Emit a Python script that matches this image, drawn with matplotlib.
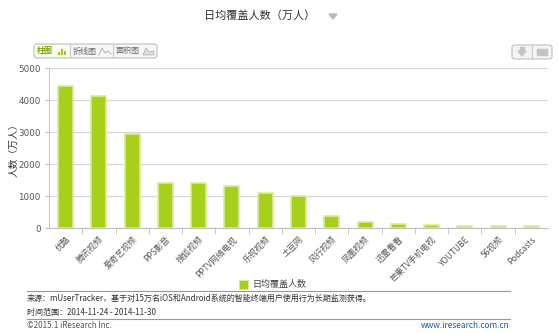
import matplotlib
matplotlib.use("Agg")
import matplotlib.pyplot as plt
from matplotlib.patches import FancyBboxPatch, Rectangle, Polygon
from matplotlib.lines import Line2D

plt.rcParams['font.family'] = ['Noto Sans CJK SC', 'DejaVu Sans']

categories = ["优酷", "腾讯视频", "爱奇艺视频", "PPS影音", "搜狐视频", "PPTV网络电视",
              "乐视视频", "土豆网", "风行视频", "凤凰视频", "迅雷看看", "芒果TV手机电视",
              "YOUTUBE", "56视频", "Podcasts"]
values = [4440, 4130, 2940, 1410, 1410, 1300, 1090, 990, 360, 175, 115, 100, 75, 60, 50]
yticks = [0, 1000, 2000, 3000, 4000, 5000]

W, H = 558, 333
fig = plt.figure(figsize=(W / 100, H / 100), dpi=100)

def fx(px):
    return px / W

def fy(py):
    return 1 - py / H

ax = fig.add_axes([fx(49), fy(228), fx(548) - fx(49), fy(68) - fy(228)])
x = list(range(len(categories)))
ax.bar(x, values, width=0.45, color="#a6d01a", edgecolor="#d9ec9c", linewidth=1.2, zorder=3)
ax.set_xlim(-0.5, len(categories) - 0.5)
ax.set_ylim(0, 5000)
ax.set_yticks(yticks)
ax.set_yticklabels([str(v) for v in yticks], fontsize=6.3, color="#555555", family="DejaVu Sans")
ax.yaxis.grid(True, color="#d6d6d6", linewidth=0.8, zorder=0)
ax.set_xticks(x)
ax.set_xticklabels(categories, rotation=45, ha="right", va="top", fontsize=6, color="#555555",
                   rotation_mode="anchor")
ax.tick_params(axis="x", length=0, pad=5)
ax.set_xticks([i + 0.5 for i in x[:-1]], minor=True)
ax.tick_params(axis="x", which="minor", length=4, color="#c0c0c0", direction="out")
ax.tick_params(axis="y", length=3, color="#c0c0c0", pad=3)
for s in ["top", "right"]:
    ax.spines[s].set_visible(False)
ax.spines["left"].set_color("#c8c8c8")
ax.spines["bottom"].set_color("#c0c0c0")
fig.text(fx(13), fy(148), "人数（万人）", rotation=90, ha="center", va="center", fontsize=7, color="#333333")

# title
fig.text(fx(260), fy(16), "日均覆盖人数（万人）", ha="center", va="center", fontsize=8, color="#333333")
fig.patches.append(Polygon([[fx(329), fy(14)], [fx(337), fy(14)], [fx(333), fy(19)]],
                           closed=True, transform=fig.transFigure, color="#bbbbbb"))

# toolbar
fig.patches.append(FancyBboxPatch((fx(34), fy(58)), fx(157) - fx(34), fy(44) - fy(58),
                                  boxstyle="round,pad=0,rounding_size=0.006", transform=fig.transFigure,
                                  facecolor="#f7f7f7", edgecolor="#bdbdbd", linewidth=0.8))
fig.patches.append(Rectangle((fx(35), fy(57)), fx(69) - fx(35), fy(45) - fy(57),
                             transform=fig.transFigure, facecolor="#fbfdf2", edgecolor="none"))
for px in [70, 113]:
    fig.lines.append(Line2D([fx(px), fx(px)], [fy(57), fy(45)], transform=fig.transFigure,
                            color="#c8c8c8", linewidth=0.8))
fig.text(fx(37), fy(51), "柱图", ha="left", va="center", fontsize=5.8, color="#7aa400", weight="bold")
for i, hgt in enumerate([3, 6, 4]):
    fig.patches.append(Rectangle((fx(58 + i * 3), fy(55)), fx(2), hgt / H, transform=fig.transFigure,
                                 facecolor="#9cc81a", edgecolor="none"))
fig.text(fx(73), fy(51), "折线图", ha="left", va="center", fontsize=5.8, color="#666666")
fig.lines.append(Line2D([fx(99), fx(102), fx(105), fx(108), fx(111)],
                        [fy(55), fy(48), fy(53), fy(51), fy(54)], transform=fig.transFigure,
                        color="#aaaaaa", linewidth=0.6))
fig.text(fx(116), fy(51), "面积图", ha="left", va="center", fontsize=5.8, color="#666666")
fig.patches.append(Polygon([[fx(143), fy(55)], [fx(146), fy(48)], [fx(149), fy(52)], [fx(154), fy(51)],
                            [fx(154), fy(55)]], closed=True, transform=fig.transFigure,
                           facecolor="#e0e0e0", edgecolor="#aaaaaa", linewidth=0.5))

# right buttons
fig.patches.append(FancyBboxPatch((fx(512), fy(59)), fx(552) - fx(512), fy(45) - fy(59),
                                  boxstyle="round,pad=0,rounding_size=0.006", transform=fig.transFigure,
                                  facecolor="#f4f4f4", edgecolor="#c0c0c0", linewidth=0.8))
fig.lines.append(Line2D([fx(532), fx(532)], [fy(58), fy(46)], transform=fig.transFigure,
                        color="#c8c8c8", linewidth=0.8))
fig.patches.append(Polygon([[fx(518), fy(51)], [fx(526), fy(51)], [fx(522), fy(56)]], closed=True,
                           transform=fig.transFigure, color="#c4c4c4"))
fig.patches.append(Rectangle((fx(520), fy(51)), fx(4), fy(47) - fy(51), transform=fig.transFigure,
                             color="#c4c4c4"))
fig.patches.append(Rectangle((fx(537), fy(55)), fx(10), fy(49) - fy(55), transform=fig.transFigure,
                             color="#c4c4c4"))

# legend
fig.patches.append(Rectangle((fx(239), fy(289)), fx(9), fy(280) - fy(289), transform=fig.transFigure,
                             facecolor="#a6d01a", edgecolor="#d9ec9c", linewidth=0.6))
fig.text(fx(252), fy(284.5), "日均覆盖人数", ha="left", va="center", fontsize=6.5, color="#444444")

# footer
fig.lines.append(Line2D([fx(27), fx(510)], [fy(291), fy(291)], transform=fig.transFigure,
                        color="#999999", linewidth=0.8))
fig.lines.append(Line2D([fx(27), fx(510)], [fy(319), fy(319)], transform=fig.transFigure,
                        color="#999999", linewidth=0.8))
fig.text(fx(27), fy(298), "来源：mUserTracker，基于对15万名iOS和Android系统的智能终端用户使用行为长期监测获得。",
         ha="left", va="center", fontsize=5.8, color="#333333")
fig.text(fx(27), fy(312), "时间范围：2014-11-24 - 2014-11-30", ha="left", va="center", fontsize=5.8, color="#333333")
fig.text(fx(27), fy(325), "©2015.1 iResearch Inc.", ha="left", va="center", fontsize=5.8, color="#555555")
fig.text(fx(510), fy(325), "www.iresearch.com.cn", ha="right", va="center", fontsize=6, color="#1f5a9e")

fig.savefig("out.png", dpi=100, facecolor="white")
